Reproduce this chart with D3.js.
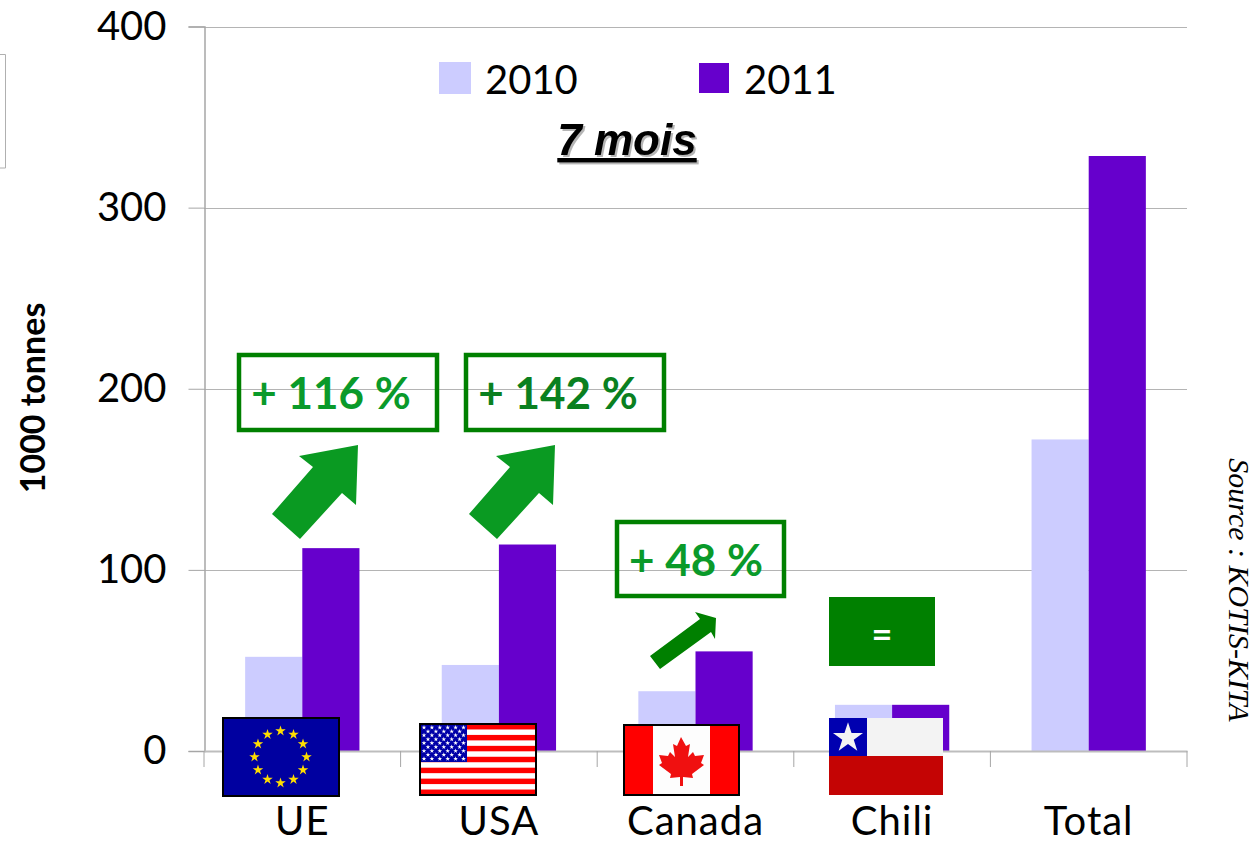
<!DOCTYPE html>
<html>
<head>
<meta charset="utf-8">
<script src="https://cdn.jsdelivr.net/npm/d3@7"></script>
<style>
  html, body { margin: 0; padding: 0; background: #fff; }
  svg { display: block; }
  text { font-family: Lato, Carlito, sans-serif; fill: #000; }
</style>
</head>
<body>
<div id="chart"></div>
<script>
// values (1000 tonnes, 7 months)
const categories = ['UE', 'USA', 'Canada', 'Chili', 'Total'];
const seriesNames = ['2010', '2011'];
const values2010 = [52, 47.5, 33, 25.5, 172];
const values2011 = [112, 114, 55, 25.5, 328.5];
const yTicks = [0, 100, 200, 300, 400];
const seriesColors = ['#ccccff', '#6600cc'];

const width = 1254, height = 848;
const axisColor = '#a6a6a6';

const svg = d3.select('#chart').append('svg')
    .attr('width', width)
    .attr('height', height);

const x = d3.scaleBand().domain(categories).range([204, 1187]);
const inner = d3.scaleBand().domain(seriesNames).range([0, x.bandwidth()]).paddingOuter(0.72);
const y = d3.scaleLinear().domain([0, 400]).range([751, 26.5]);

// stray legend frame at the left edge
svg.append('path')
    .attr('d', 'M0,54.5H5.5V168H0')
    .attr('fill', 'none')
    .attr('stroke', '#b0b0b0')
    .attr('stroke-width', 1);

// gridlines
svg.append('g').selectAll('line')
    .data(yTicks.filter(d => d > 0))
    .enter()
    .append('line')
    .attr('x1', 204)
    .attr('x2', 1187)
    .attr('y1', d => Math.round(y(d)) + 0.5)
    .attr('y2', d => Math.round(y(d)) + 0.5)
    .attr('stroke', '#b4b4b4')
    .attr('stroke-width', 1);

// bars
const rows = seriesNames.map((s, i) => ({name: s, color: seriesColors[i], values: i === 0 ? values2010 : values2011}));
svg.append('g').selectAll('g')
    .data(rows)
    .enter()
    .append('g')
    .attr('fill', d => d.color)
    .selectAll('rect')
    .data(d => d.values.map((v, i) => ({name: d.name, cat: categories[i], v})))
    .enter()
    .append('rect')
    .attr('x', d => x(d.cat) + inner(d.name))
    .attr('y', d => y(d.v))
    .attr('width', inner.bandwidth())
    .attr('height', d => y(0) - y(d.v));

// axes
const yAxis = svg.append('g')
    .attr('transform', 'translate(204.5,0)')
    .call(d3.axisLeft(y).tickValues(yTicks).tickSize(16).tickPadding(22));
yAxis.select('.domain').attr('stroke', axisColor).attr('stroke-width', 1.5);
yAxis.selectAll('.tick line').attr('stroke', axisColor);
yAxis.selectAll('.tick text').attr('font-size', 40).attr('font-family', 'Lato').attr('fill', '#000');

const xAxis = svg.append('g')
    .attr('transform', 'translate(0,751)')
    .call(d3.axisBottom(x).tickSize(0).tickPadding(56));
xAxis.select('.domain').attr('stroke', '#bdbdbd').attr('stroke-width', 2);
xAxis.selectAll('.tick text').attr('font-size', 40).attr('font-family', 'Lato').attr('fill', '#000').attr('letter-spacing', 1);

// category separators below the baseline
svg.append('g').selectAll('line')
    .data(categories.map(c => x(c)).concat(x.range()[1]))
    .enter()
    .append('line')
    .attr('x1', d => d)
    .attr('x2', d => d)
    .attr('y1', 751)
    .attr('y2', 767)
    .attr('stroke', axisColor);

// y title
svg.append('text')
    .attr('transform', 'translate(45,398) rotate(-90)')
    .attr('text-anchor', 'middle')
    .attr('font-size', 34)
    .attr('font-weight', 700)
    .text('1000 tonnes');

// source
svg.append('text')
    .attr('transform', 'translate(1229,590) rotate(90)')
    .attr('text-anchor', 'middle')
    .style('font-family', '"Liberation Serif", serif')
    .attr('font-size', 30)
    .attr('font-style', 'italic')
    .text('Source : KOTIS-KITA');

// legend
const legend = [
    {x: 439, y: 62, s: 32, tx: 485},
    {x: 699, y: 63, s: 30, tx: 744}
];
legend.forEach((l, i) => {
    svg.append('rect').attr('x', l.x).attr('y', l.y).attr('width', l.s).attr('height', l.s).attr('fill', seriesColors[i]);
    svg.append('text').attr('x', l.tx).attr('y', 94).attr('font-size', 40).text(seriesNames[i]);
});

// period label
svg.append('text')
    .attr('x', 627)
    .attr('y', 155)
    .attr('text-anchor', 'middle')
    .style('font-family', '"Liberation Sans", sans-serif')
    .style('filter', 'drop-shadow(2px 2px 0.5px #b5b5b5)')
    .style('text-decoration', 'underline')
    .attr('font-size', 44)
    .attr('font-weight', 700)
    .attr('font-style', 'italic')
    .text('7 mois');

// arrows
const bigArrow = [[358, 445], [299, 456], [313, 467], [272, 514], [300, 539], [342, 493], [356, 505]];
const arrowFill = '#0a9a22';
[0, 197].forEach(dx => {
    svg.append('polygon')
        .attr('points', bigArrow.map(p => [p[0] + dx, p[1]].join(',')).join(' '))
        .attr('fill', arrowFill);
});
svg.append('polygon')
    .attr('points', '650,656 660,669 711,632 715,639 716,618 695,612 700,619')
    .attr('fill', '#008000');

// change boxes
const boxes = [
    {x: 239, y: 355, w: 198, h: 75, label: '+ 116 %', color: '#0a9a2a', tx: 331},
    {x: 466, y: 355, w: 198, h: 75, label: '+ 142 %', color: '#0a8020', tx: 558},
    {x: 617, y: 522, w: 167, h: 74, label: '+ 48 %', color: '#0a9a2a', tx: 696}
];
boxes.forEach(b => {
    svg.append('rect')
        .attr('x', b.x).attr('y', b.y).attr('width', b.w).attr('height', b.h)
        .attr('fill', 'none')
        .attr('stroke', '#008000')
        .attr('stroke-width', 4.5);
    svg.append('text')
        .attr('x', b.tx).attr('y', b.y + 54)
        .attr('text-anchor', 'middle')
        .attr('font-size', 44)
        .attr('font-weight', 700)
        .style('fill', b.color)
        .text(b.label);
});
svg.append('rect').attr('x', 829).attr('y', 597).attr('width', 106).attr('height', 69).attr('fill', '#008000');
svg.append('text')
    .attr('x', 882).attr('y', 647)
    .attr('text-anchor', 'middle')
    .attr('font-size', 36)
    .attr('font-weight', 700)
    .style('fill', '#fff')
    .text('=');

// flags
const star = r => d3.symbol().type(d3.symbolStar).size(r)();

function flagFrame(fx, fy, w, h) {
    return svg.append('rect')
        .attr('x', fx).attr('y', fy).attr('width', w).attr('height', h)
        .attr('fill', 'none')
        .attr('stroke', '#000')
        .attr('stroke-width', 2);
}

// EU
svg.append('rect').attr('x', 223).attr('y', 718).attr('width', 116).attr('height', 78).attr('fill', '#0000a0');
d3.range(12).forEach(i => {
    const a = i * Math.PI / 6;
    svg.append('path')
        .attr('d', star(34))
        .attr('transform', `translate(${280.5 + 26 * Math.sin(a)},${757 - 26 * Math.cos(a)})`)
        .attr('fill', '#ffdd00');
});
flagFlag = flagFrame(223, 718, 116, 78);

// USA
svg.append('rect').attr('x', 420).attr('y', 724).attr('width', 116).attr('height', 71).attr('fill', '#fff');
d3.range(7).forEach(i => {
    svg.append('rect')
        .attr('x', 420).attr('y', 724 + i * 71 / 6.5)
        .attr('width', 116).attr('height', 71 / 13)
        .attr('fill', '#ff0000');
});
svg.append('rect').attr('x', 420).attr('y', 724).attr('width', 47).attr('height', 38).attr('fill', '#0000a8');
d3.range(9).forEach(r => {
    const n = r % 2 === 0 ? 6 : 5;
    d3.range(n).forEach(c => {
        svg.append('path')
            .attr('d', star(7))
            .attr('transform', `translate(${424 + (r % 2 ? 4 : 0) + c * 7.9},${727.5 + r * 3.9})`)
            .attr('fill', '#fff');
    });
});
flagFrame(420, 724, 116, 71);

// Canada
svg.append('rect').attr('x', 624).attr('y', 725).attr('width', 115).attr('height', 70).attr('fill', '#fdfdfd');
svg.append('rect').attr('x', 624).attr('y', 725).attr('width', 29).attr('height', 70).attr('fill', '#ff0000');
svg.append('rect').attr('x', 710).attr('y', 725).attr('width', 29).attr('height', 70).attr('fill', '#ff0000');
svg.append('path')
    .attr('d', 'M681,737 L686,746 L690,744 L688,757 L693,752 L695,756 L704,755 L701,763 L704,765 L692,774 L693,778 L683,777 L683,786 L680,786 L680,777 L670,778 L671,774 L659,765 L662,763 L659,755 L668,756 L670,752 L675,757 L673,744 L677,746 Z')
    .attr('fill', '#f01010');
flagFrame(624, 725, 115, 70);

// Chile
svg.append('rect').attr('x', 829).attr('y', 718).attr('width', 114).attr('height', 39).attr('fill', '#f3f3f3');
svg.append('rect').attr('x', 829).attr('y', 756).attr('width', 114).attr('height', 39).attr('fill', '#c40404');
svg.append('rect').attr('x', 829).attr('y', 718).attr('width', 38).attr('height', 38).attr('fill', '#0000b0');
svg.append('path')
    .attr('d', star(280))
    .attr('transform', 'translate(848,738)')
    .attr('fill', '#f3f3f3');
</script>
</body>
</html>
